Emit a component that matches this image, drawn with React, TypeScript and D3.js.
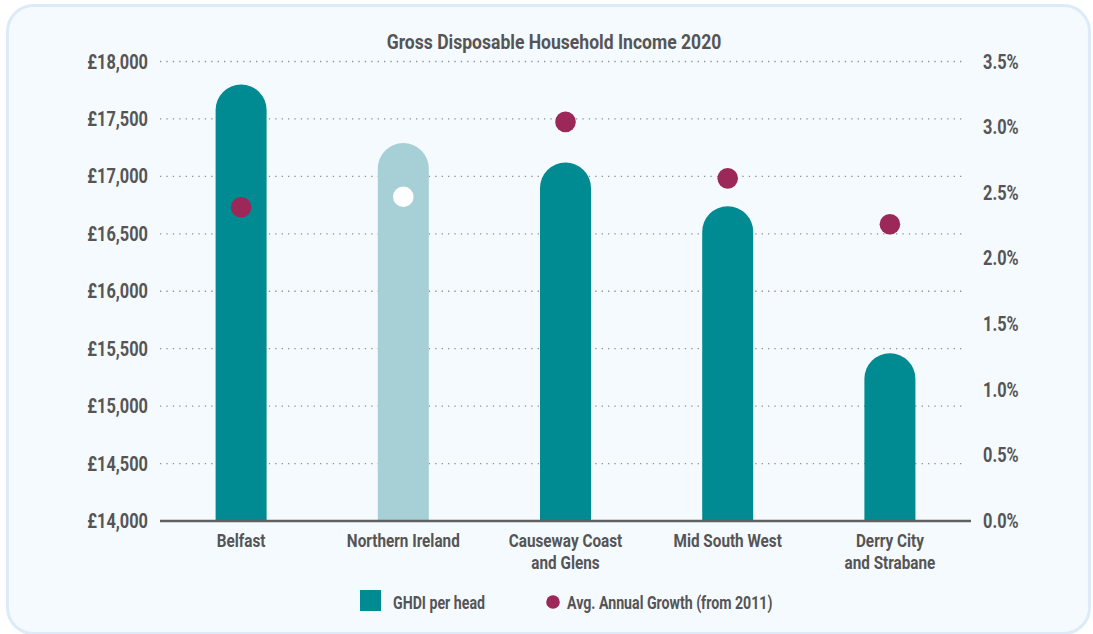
import React from "react";
import * as d3 from "d3";

const categories: string[][] = [
  ["Belfast"],
  ["Northern Ireland"],
  ["Causeway Coast", "and Glens"],
  ["Mid South West"],
  ["Derry City", "and Strabane"],
];
const ghdi: number[] = [17800, 17290, 17120, 16740, 15460];
const growth: number[] = [2.39, 2.47, 3.04, 2.61, 2.26];
const highlight: boolean[] = [false, true, false, false, false];
const leftTicks: number[] = [14000, 14500, 15000, 15500, 16000, 16500, 17000, 17500, 18000];
const rightTicks: number[] = [0, 0.5, 1, 1.5, 2, 2.5, 3, 3.5];
const title = "Gross Disposable Household Income 2020";
const legendLabels = ["GHDI per head", "Avg. Annual Growth (from 2011)"];

const W = 1093;
const H = 634;
const FONT = "Roboto, 'Noto Sans', sans-serif";
const TEAL = "#008a91";
const LIGHT = "#a6cfd6";
const DOT = "#9c2859";
const TXT = "#555555";

type TProps = {
  x: number;
  y: number;
  size: number;
  sx: number;
  anchor?: "start" | "middle" | "end";
  children: React.ReactNode;
};

function T({ x, y, size, sx, anchor = "start", children }: TProps) {
  return (
    <text
      transform={`translate(${x},${y}) scale(${sx},1)`}
      textAnchor={anchor}
      fontSize={size}
      fontWeight="bold"
      fill={TXT}
      fontFamily={FONT}
    >
      {children}
    </text>
  );
}

export default function App() {
  const x = d3.scaleBand<number>().domain(d3.range(categories.length)).range([160, 971]).paddingInner(0).paddingOuter(0);
  const yL = d3.scaleLinear().domain([14000, 18000]).range([521, 61.5]);
  const yR = d3.scaleLinear().domain([0, 3.5]).range([521, 61.5]);
  const barW = 51;
  const r = barW / 2;
  const fmtL = (v: number) => "£" + d3.format(",")(v);
  const fmtR = d3.format(".1f");
  const cx = (i: number) => (x(i) as number) + x.bandwidth() / 2;

  const barPath = (i: number) => {
    const c = cx(i);
    const top = yL(ghdi[i]);
    const base = yL(14000);
    const p = d3.path();
    p.moveTo(c - r, base);
    p.lineTo(c - r, top + r);
    p.arc(c, top + r, r, Math.PI, 0);
    p.lineTo(c + r, base);
    p.closePath();
    return p.toString();
  };

  return (
    <svg width={W} height={H} style={{ position: "absolute", left: 0, top: 0, display: "block" }}>
      <rect x={0} y={0} width={W} height={H} fill="#ffffff" />
      <rect x={7.5} y={5.5} width={1082} height={628} rx={26} ry={26} fill="#f5faff" stroke="#dcebf7" strokeWidth={3} />
      <T x={554} y={49} size={19.5} sx={0.9} anchor="middle">{title}</T>

      {leftTicks.filter((t) => t !== 14000).map((t) => (
        <line key={"g" + t} x1={160} x2={966} y1={yL(t)} y2={yL(t)} stroke="#8f8f8f" strokeWidth={1.3} strokeDasharray="1.3 5.1" />
      ))}

      {leftTicks.map((t) => (
        <T key={"l" + t} x={148} y={yL(t) + 7} size={20} sx={0.82} anchor="end">{fmtL(t)}</T>
      ))}
      {rightTicks.map((t) => (
        <T key={"r" + t} x={983} y={yR(t) + 7} size={20} sx={0.82} anchor="start">{fmtR(t) + "%"}</T>
      ))}

      {ghdi.map((_, i) => (
        <path key={"b" + i} d={barPath(i)} fill={highlight[i] ? LIGHT : TEAL} />
      ))}

      <line x1={160} x2={971} y1={yL(14000)} y2={yL(14000)} stroke="#606060" strokeWidth={2.5} />

      {growth.map((g, i) => (
        <circle key={"c" + i} cx={cx(i)} cy={yR(g)} r={10.3} fill={highlight[i] ? "#ffffff" : DOT} />
      ))}

      {categories.map((lines, i) =>
        lines.map((ln, k) => (
          <T key={"x" + i + "-" + k} x={cx(i)} y={547 + k * 21.5} size={18} sx={0.85} anchor="middle">{ln}</T>
        ))
      )}

      <rect x={360} y={590} width={21} height={21} fill={TEAL} />
      <T x={393} y={609} size={17.5} sx={0.81}>{legendLabels[0]}</T>
      <circle cx={553} cy={602} r={6.8} fill={DOT} />
      <T x={567} y={609} size={17.5} sx={0.81}>{legendLabels[1]}</T>
    </svg>
  );
}
